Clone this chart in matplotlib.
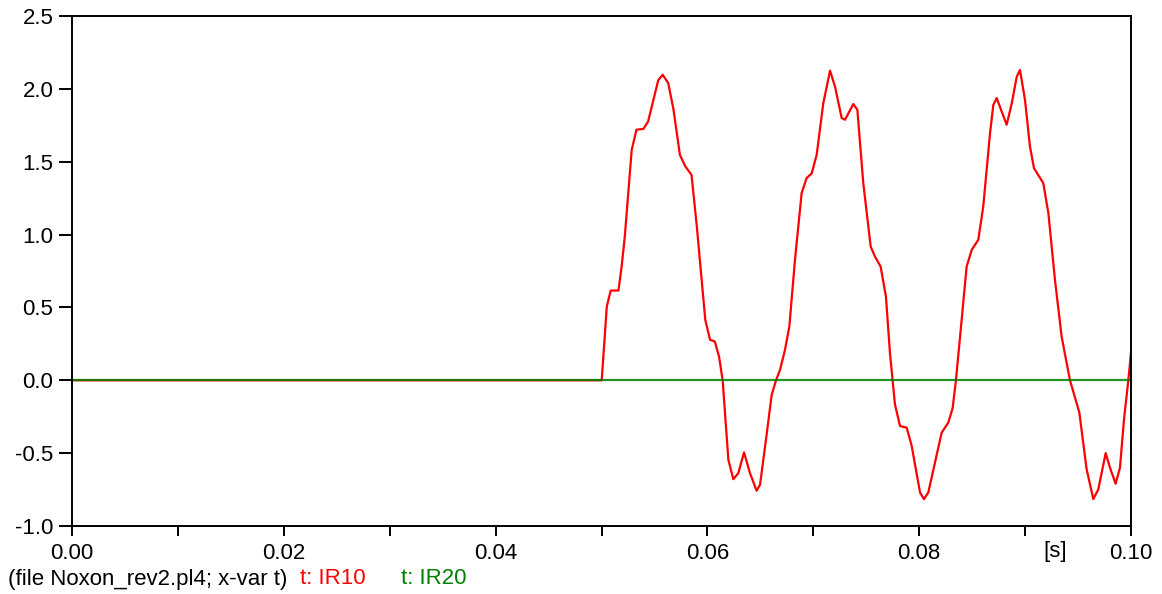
import matplotlib.pyplot as plt
import numpy as np

plt.rcParams['font.family'] = ['Liberation Sans', 'DejaVu Sans']

# IR10 trace (t in s, current)
t_ir10 = [0.0, 0.05002, 0.0505, 0.05087, 0.0516, 0.0519, 0.0522, 0.05285, 0.0533,
          0.05395, 0.0544, 0.05536, 0.05578, 0.0563, 0.0568, 0.0574, 0.0579, 0.0585,
          0.0590, 0.0598, 0.06025, 0.0607, 0.0611, 0.06144, 0.06198, 0.06245, 0.06292,
          0.06346, 0.06402, 0.06465, 0.06497, 0.06553, 0.06607, 0.06648, 0.06686,
          0.06733, 0.06774, 0.06827, 0.0689, 0.06937, 0.06985, 0.07032, 0.07094,
          0.07158, 0.07205, 0.07268, 0.07299, 0.07378, 0.07416, 0.07472, 0.07542,
          0.07582, 0.07636, 0.07686, 0.07724, 0.07749, 0.07771, 0.07819, 0.07882,
          0.07929, 0.08008, 0.08045, 0.08086, 0.08149, 0.08212, 0.08275, 0.08316,
          0.08347, 0.08401, 0.08448, 0.08496, 0.08558, 0.08605, 0.08669, 0.087,
          0.08732, 0.08779, 0.08826, 0.08874, 0.08921, 0.08952, 0.08999, 0.09046,
          0.09084, 0.09172, 0.0922, 0.09282, 0.09345, 0.09424, 0.09512, 0.09581,
          0.09644, 0.09691, 0.09761, 0.09802, 0.09855, 0.09896, 0.09934, 0.09975,
          0.1]
ir10 = [0.0, 0.0, 0.507, 0.616, 0.616, 0.78, 0.987, 1.58, 1.72,
        1.725, 1.776, 2.06, 2.097, 2.04, 1.857, 1.548, 1.47, 1.41,
        1.056, 0.415, 0.278, 0.266, 0.163, 0.0, -0.546, -0.679, -0.637,
        -0.495, -0.637, -0.758, -0.717, -0.408, -0.1, 0.0, 0.072,
        0.21, 0.37, 0.827, 1.285, 1.388, 1.42, 1.548, 1.9,
        2.125, 2.016, 1.80, 1.788, 1.896, 1.857, 1.353, 0.918,
        0.85, 0.78, 0.575, 0.187, 0.0, -0.165, -0.314, -0.325,
        -0.45, -0.77, -0.816, -0.77, -0.565, -0.36, -0.29, -0.19,
        0.0, 0.415, 0.78, 0.895, 0.964, 1.193, 1.696, 1.89,
        1.937, 1.845, 1.754, 1.9, 2.083, 2.13, 1.925, 1.605,
        1.456, 1.353, 1.147, 0.69, 0.30, 0.0, -0.22, -0.61,
        -0.815, -0.75, -0.50, -0.60, -0.71, -0.60, -0.27, 0.0,
        0.19]

# IR20 stays at zero
t_ir20 = [0.0, 0.1]
ir20 = [0.0, 0.0]

fig = plt.figure(figsize=(11.62, 5.94), dpi=100)
ax = fig.add_axes([0.062, 0.1145, 0.9113, 0.8585])

ax.plot(t_ir10, ir10, color='#ff0000', lw=1.6, solid_joinstyle='round')
ax.plot(t_ir20, ir20, color='#008000', lw=1.6, alpha=0.85)

ax.set_xlim(0, 0.1)
ax.set_ylim(-1.0, 2.5)
ax.set_xticks(np.arange(0, 0.1001, 0.02))
ax.set_xticks(np.arange(0.01, 0.1, 0.02), minor=True)
ax.set_yticks(np.arange(-1.0, 2.501, 0.5))
ax.xaxis.set_major_formatter(plt.FormatStrFormatter('%.2f'))
ax.yaxis.set_major_formatter(plt.FormatStrFormatter('%.1f'))

for s in ax.spines.values():
    s.set_linewidth(1.4)
ax.tick_params(axis='both', which='both', direction='out', width=1.4, labelsize=16)
ax.tick_params(axis='x', which='both', length=7, pad=5)
ax.tick_params(axis='y', length=9.5, pad=4)

fig.text(1043 / 1162, 1 - 552 / 594, '[s]', fontsize=16, ha='left', va='center')
fig.text(8 / 1162, 1 - 579 / 594, '(file Noxon_rev2.pl4; x-var t)', fontsize=16, ha='left', va='center')
fig.text(300 / 1162, 1 - 579 / 594, 't: IR10', fontsize=16, color='#ff0000', ha='left', va='center')
fig.text(401 / 1162, 1 - 579 / 594, 't: IR20', fontsize=16, color='#008000', ha='left', va='center')

fig.savefig('out.png', dpi=100)
